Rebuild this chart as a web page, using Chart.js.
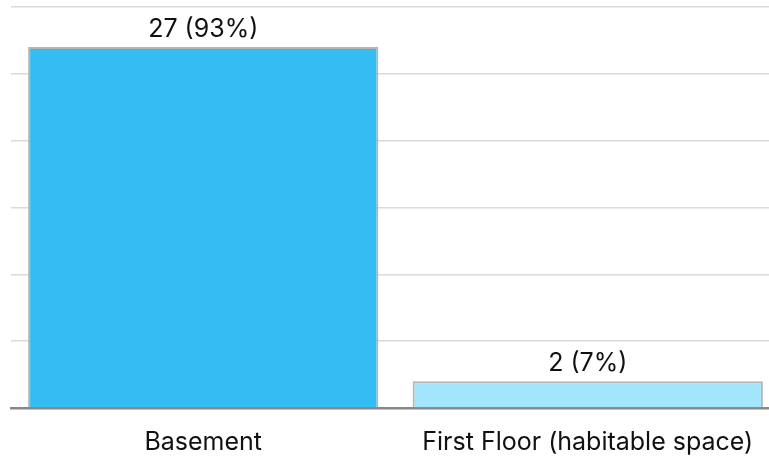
<!DOCTYPE html>
<html>
<head>
<meta charset="utf-8">
<script src="https://cdn.jsdelivr.net/npm/chart.js@4"></script>
<style>
    html, body { margin: 0; padding: 0; background: #fff; overflow: hidden; }
    #wrap { width: 780px; height: 456px; }
</style>
</head>
<body>
<div id="wrap"><canvas id="barChart"></canvas></div>
<script>
const categories = ['Basement', 'First Floor (habitable space)'];
const counts = [27, 2];
const percents = [93, 7];
const barColors = ['#33bdf2', '#a3e6fb'];

const valueLabels = {
    id: 'valueLabels',
    afterDatasetsDraw(chart) {
        const ctx = chart.ctx;
        const meta = chart.getDatasetMeta(0);
        ctx.save();
        ctx.font = '25px Inter, "Noto Sans", sans-serif';
        ctx.fillStyle = '#111';
        ctx.textAlign = 'center';
        ctx.textBaseline = 'alphabetic';
        meta.data.forEach((bar, i) => {
            ctx.fillText(`${counts[i]} (${percents[i]}%)`, bar.x, bar.y - 10);
        });
        ctx.restore();
    }
};

const ctx = document.getElementById('barChart').getContext('2d');
new Chart(ctx, {
    type: 'bar',
    data: {
        labels: categories,
        datasets: [{
            data: counts,
            backgroundColor: barColors,
            borderColor: '#b5b5b5',
            borderWidth: 2,
            barPercentage: 0.911,
            categoryPercentage: 1
        }]
    },
    options: {
        responsive: true,
        maintainAspectRatio: false,
        animation: false,
        layout: { padding: { left: 11, right: 0, top: 7, bottom: 0 } },
        plugins: {
            legend: { display: false },
            tooltip: { enabled: false }
        },
        scales: {
            x: {
                grid: { display: false, drawTicks: false },
                border: { color: '#888888', width: 2.5 },
                ticks: {
                    color: '#111',
                    font: { size: 25, family: 'Inter, "Noto Sans", sans-serif' },
                    padding: 19,
                    maxRotation: 0
                },
                afterFit(scale) {
                    scale.height = 48;
                }
            },
            y: {
                min: 0,
                max: 30,
                ticks: { display: false, stepSize: 5 },
                grid: { color: '#dadada', lineWidth: 1.5, drawTicks: false },
                border: { display: false }
            }
        }
    },
    plugins: [valueLabels]
});
</script>
</body>
</html>
